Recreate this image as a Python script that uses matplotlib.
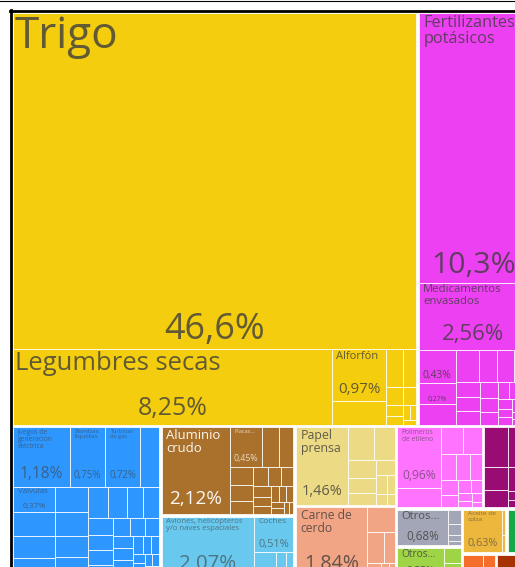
import matplotlib
matplotlib.use("Agg")
import matplotlib.pyplot as plt
from matplotlib.patches import Rectangle

# cuota de cada producto en las exportaciones (%)
sectores = ["Productos vegetales", "Productos químicos", "Máquinas", "Metales", "Transporte",
            "Papel", "Productos animales", "Plásticos y cauchos", "Metales preciosos",
            "Instrumentos", "Productos alimenticios", "Grasas animales y vegetales",
            "Textiles", "Piedra y vidrio", "Productos minerales"]

vegetales = [46.6, 8.25, 0.97, 0.45, 0.22, 0.17, 0.10, 0.08, 0.06, 0.05, 0.04, 0.03, 0.02]
vegetales_nombres = ["Trigo", "Legumbres secas", "Alforfón"]

quimicos = [10.3, 2.56, 0.43, 0.27, 0.27, 0.26, 0.20, 0.19, 0.15, 0.13, 0.12, 0.11, 0.10,
            0.09, 0.08, 0.07, 0.06, 0.05, 0.05, 0.04, 0.04, 0.04, 0.03, 0.03, 0.02, 0.02]
quimicos_nombres = ["Fertilizantes\npotásicos", "Medicamentos\nenvasados", "", "", None, "Fusibles..."]

maquinas = [1.18, 0.75, 0.72, 0.40, 0.37, 0.35, 0.33, 0.30, 0.30, 0.28, 0.25, 0.25, 0.22,
            0.20, 0.18, 0.17, 0.15, 0.14, 0.13, 0.12, 0.11, 0.10, 0.09, 0.08, 0.08, 0.07,
            0.06, 0.06, 0.05, 0.05, 0.04, 0.04, 0.03, 0.03, 0.03, 0.02, 0.02, 0.02]
maquinas_nombres = ["Juegos de\ngeneración\neléctrica", "Bombas\nlíquidas", "Turbinas\nde gas",
                    None, "Válvulas", None, None, "Equipo de..."]

metales = [2.12, 0.45, 0.25, 0.20, 0.15, 0.13, 0.11, 0.10, 0.09, 0.08, 0.07, 0.06, 0.05,
           0.05, 0.04, 0.04, 0.03, 0.03, 0.02, 0.02]
metales_nombres = ["Aluminio\ncrudo", "Placas..."]

transporte = [2.07, 0.51, 0.12, 0.09, 0.07, 0.05, 0.03, 0.02]
transporte_nombres = ["Aviones, helicópteros\ny/o naves espaciales", "Coches"]

papel = [1.46, 0.30, 0.25, 0.18, 0.15, 0.12, 0.10, 0.07, 0.05, 0.04, 0.03]
papel_nombres = ["Papel\nprensa"]

animales = [1.84, 0.25, 0.18, 0.12, 0.08, 0.05, 0.03]
animales_nombres = ["Carne de\ncerdo"]

plasticos = [0.96, 0.30, 0.22, 0.18, 0.15, 0.13, 0.11, 0.09, 0.08, 0.06, 0.05, 0.04, 0.03, 0.03, 0.02]
plasticos_nombres = ["Polímeros\nde etileno"]

preciosos = [0.35, 0.30, 0.20, 0.15, 0.10, 0.08, 0.05, 0.04, 0.03]
instrumentos = [0.68, 0.07, 0.05, 0.03, 0.02]
instrumentos_nombres = ["Otros..."]
alimenticios = [0.55, 0.10, 0.06, 0.04]
alimenticios_nombres = ["Otros..."]
grasas = [0.63, 0.03, 0.02]
grasas_nombres = ["Aceite de\ncolza"]
textiles = [0.34]
piedra = [0.20, 0.07, 0.04]
minerales = [0.30]

colores = ["#F4CD0F", "#ED40F2", "#2E97FF", "#A9712B", "#69C8ED", "#EDDA85", "#F2A584",
           "#FF73FF", "#990C73", "#A3A6B7", "#A0D447", "#EDB73E", "#17A84A", "#F46D2A", "#A53200"]

grupos = [(vegetales, vegetales_nombres), (quimicos, quimicos_nombres), (maquinas, maquinas_nombres),
          (metales, metales_nombres), (transporte, transporte_nombres), (papel, papel_nombres),
          (animales, animales_nombres), (plasticos, plasticos_nombres), (preciosos, []),
          (instrumentos, instrumentos_nombres), (alimenticios, alimenticios_nombres),
          (grasas, grasas_nombres), (textiles, []), (piedra, []), (minerales, [])]

PHI = (1 + 5 ** 0.5) / 2
FUENTE = "Open Sans"


def squarify(valores, x0, y0, w, h):
    # mismo algoritmo que d3.treemapSquarify
    x1, y1 = x0 + w, y0 + h
    total = sum(valores)
    rects = []
    i0, n = 0, len(valores)
    while i0 < n:
        dx, dy = x1 - x0, y1 - y0
        s = valores[i0]
        i1 = i0 + 1
        vmin = vmax = s
        alpha = max(dy / dx, dx / dy) / (total * PHI)
        beta = s * s * alpha
        mejor = max(vmax / beta, beta / vmin)
        while i1 < n:
            v = valores[i1]
            beta = (s + v) ** 2 * alpha
            r = max(max(vmax, v) / beta, beta / min(vmin, v))
            if r > mejor:
                break
            s += v
            vmin, vmax, mejor = min(vmin, v), max(vmax, v), r
            i1 += 1
        fila = valores[i0:i1]
        if dx < dy:
            hb = dy * s / total
            xx = x0
            for v in fila:
                rects.append((xx, y0, dx * v / s, hb))
                xx += dx * v / s
            y0 += hb
        else:
            wb = dx * s / total
            yy = y0
            for v in fila:
                rects.append((x0, yy, wb, dy * v / s))
                yy += dy * v / s
            x0 += wb
        total -= s
        i0 = i1
    return rects


def luminancia(c):
    r, g, b = matplotlib.colors.to_rgb(c)
    return 0.299 * r + 0.587 * g + 0.114 * b


def porcentaje(v):
    txt = f"{v:.1f}" if v >= 10 else f"{v:.2f}"
    return txt.replace(".", ",") + "%"


fig = plt.figure(figsize=(5.15, 5.67), dpi=100)
ax = fig.add_axes([0, 0, 1, 1])
ax.set_xlim(0, 515)
ax.set_ylim(567, 0)
ax.axis("off")
renderer = fig.canvas.get_renderer()
PT = 0.72  # puntos por pixel


def medir(s):
    t = ax.text(0, 0, s, fontsize=10, family=FUENTE)
    bb = t.get_window_extent(renderer)
    t.remove()
    return bb.width, bb.height


def etiqueta(rx, ry, rw, rh, valor, nombre, color):
    if nombre is None:
        return
    tinta = "white" if luminancia(color) < 0.48 else "#3d3d3d"
    alfa = 0.95 if tinta == "white" else 0.8
    arriba = ry + min(1.5, rh * 0.05)
    alto_nombre = 0
    if nombre:
        lineas = nombre.count("\n") + 1
        w10, h10 = medir(nombre)
        pad = 4.5 if rw < 200 else 1.5
        px = min(44, (rw - 2 * pad) * 0.92 / (w10 / 10) / PT, 0.34 * rh / lineas)
        if px < 5.5:
            return
        if px < 9:
            alfa *= 0.75
        ax.text(rx + pad, arriba, nombre, fontsize=px * PT, family=FUENTE, color=tinta,
                alpha=alfa, ha="left", va="top", linespacing=1.05)
        alto_nombre = h10 / 10 * px * PT
    share = porcentaje(valor)
    w10, h10 = medir(share)
    px = min(36, rw * 0.78 / (w10 / 10) / PT, 0.33 * rh)
    if px < 5.5:
        return
    abajo = min(10, 0.15 * rh)
    if arriba - ry + alto_nombre + px * 0.78 + abajo > rh + 1:
        return
    ax.text(rx + rw / 2, ry + rh - abajo, share, fontsize=px * PT, family=FUENTE, color=tinta,
            alpha=alfa, ha="center", va="baseline")


# orden de mayor a menor como hace d3
totales = [sum(g[0]) for g in grupos]
orden = sorted(range(len(grupos)), key=lambda i: -totales[i])
cajas = squarify([totales[i] for i in orden], 12, 12, 517, 568)

HUECO = 1.3
for i, (sx, sy, sw, sh) in zip(orden, cajas):
    vals, noms = grupos[i]
    items = sorted(zip(vals, noms + [None] * (len(vals) - len(noms))), key=lambda p: -p[0])
    rects = squarify([p[0] for p in items], sx + HUECO, sy + HUECO, sw - 2 * HUECO, sh - 2 * HUECO)
    for (rx, ry, rw, rh), (v, nom) in zip(rects, items):
        ax.add_patch(Rectangle((rx, ry), rw, rh, facecolor=colores[i],
                               edgecolor=(1, 1, 1, 0.8), linewidth=0.7))
        etiqueta(rx, ry, rw, rh, v, nom, colores[i])

# marco
ax.plot([0, 515], [0.5, 0.5], color="black", lw=0.8)
ax.plot([9.5, 515], [11, 11], color="black", lw=2)
ax.plot([10.5, 10.5], [10, 567], color="black", lw=2)

fig.savefig("out.png", dpi=100, facecolor="white")
